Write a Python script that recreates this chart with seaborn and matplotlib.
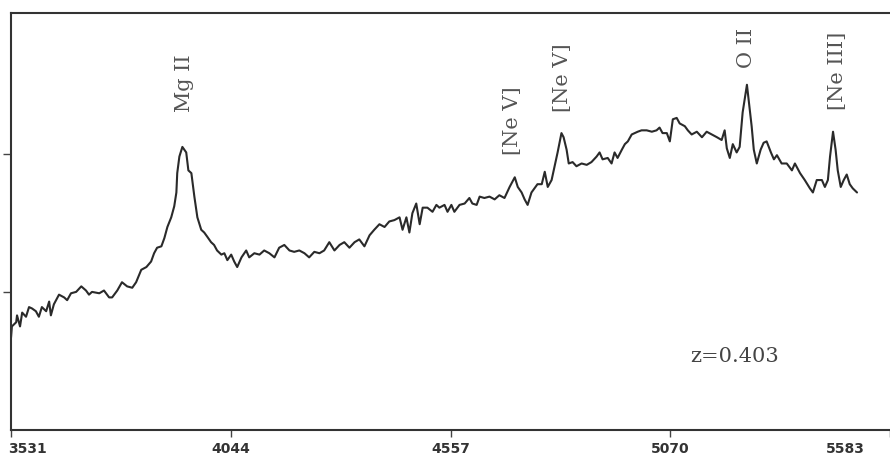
import seaborn as sns
import numpy as np
import matplotlib.pyplot as plt
import matplotlib.transforms as mtransforms
import pandas as pd

wavelength = [3531, 3533, 3543, 3545, 3552, 3557, 3566, 3573, 3580, 3589, 3596, 3603, 3613, 3620,
              3624, 3631, 3643, 3655, 3662, 3671, 3683, 3695, 3706, 3713, 3720, 3737, 3748, 3760,
              3767, 3779, 3790, 3802, 3814, 3823, 3835, 3847, 3858, 3865, 3872, 3882, 3889, 3896,
              3905, 3912, 3917, 3919, 3924, 3931, 3940, 3945, 3952, 3959, 3966, 3975, 3982, 3989,
              3998, 4005, 4012, 4022, 4029, 4036, 4045, 4052, 4059, 4069, 4080, 4087, 4099, 4111,
              4122, 4134, 4146, 4157, 4169, 4181, 4192, 4204, 4216, 4227, 4239, 4251, 4262, 4274,
              4286, 4298, 4309, 4321, 4333, 4344, 4356, 4368, 4379, 4391, 4403, 4414, 4426, 4438,
              4445, 4454, 4461, 4468, 4477, 4485, 4492, 4503, 4515, 4524, 4531, 4543, 4550, 4559,
              4566, 4578, 4590, 4601, 4608, 4618, 4625, 4636, 4648, 4660, 4671, 4683, 4695, 4707,
              4714, 4723, 4730, 4737, 4746, 4753, 4760, 4770, 4777, 4784, 4793, 4800, 4807, 4816,
              4821, 4828, 4833, 4842, 4851, 4863, 4875, 4886, 4898, 4905, 4912, 4924, 4933, 4940,
              4947, 4957, 4964, 4971, 4980, 4987, 4994, 5003, 5015, 5027, 5038, 5045, 5052, 5062,
              5069, 5076, 5085, 5092, 5104, 5111, 5120, 5132, 5144, 5155, 5167, 5179, 5190, 5197,
              5202, 5209, 5216, 5225, 5232, 5239, 5249, 5253, 5260, 5265, 5272, 5281, 5288, 5295,
              5305, 5312, 5319, 5330, 5342, 5354, 5361, 5373, 5384, 5396, 5403, 5412, 5424, 5431,
              5438, 5443, 5450, 5456, 5461, 5468, 5475, 5482, 5489, 5496, 5506]
flux = [0.67, 0.75, 0.78, 0.83, 0.75, 0.85, 0.82, 0.89, 0.88, 0.86, 0.82, 0.89, 0.86, 0.93,
        0.83, 0.91, 0.98, 0.96, 0.94, 0.99, 1.00, 1.04, 1.01, 0.98, 1.00, 0.99, 1.01, 0.96,
        0.96, 1.01, 1.07, 1.04, 1.03, 1.07, 1.16, 1.18, 1.22, 1.28, 1.32, 1.33, 1.39, 1.47,
        1.54, 1.62, 1.72, 1.86, 1.98, 2.05, 2.01, 1.88, 1.86, 1.69, 1.54, 1.45, 1.43, 1.40,
        1.36, 1.34, 1.30, 1.27, 1.28, 1.23, 1.27, 1.22, 1.18, 1.25, 1.30, 1.25, 1.28, 1.27,
        1.30, 1.28, 1.25, 1.32, 1.34, 1.30, 1.29, 1.30, 1.28, 1.25, 1.29, 1.28, 1.30, 1.36,
        1.30, 1.34, 1.36, 1.32, 1.36, 1.38, 1.33, 1.41, 1.45, 1.49, 1.47, 1.51, 1.52, 1.54,
        1.45, 1.54, 1.43, 1.57, 1.64, 1.49, 1.61, 1.61, 1.58, 1.63, 1.61, 1.63, 1.58, 1.63,
        1.58, 1.63, 1.64, 1.68, 1.64, 1.63, 1.69, 1.68, 1.69, 1.67, 1.70, 1.68, 1.76, 1.83,
        1.76, 1.72, 1.67, 1.63, 1.72, 1.75, 1.78, 1.78, 1.87, 1.76, 1.81, 1.91, 2.01, 2.15,
        2.12, 2.03, 1.93, 1.94, 1.91, 1.93, 1.92, 1.94, 1.98, 2.01, 1.96, 1.97, 1.93, 2.01,
        1.97, 2.03, 2.07, 2.09, 2.14, 2.15, 2.16, 2.17, 2.17, 2.16, 2.17, 2.19, 2.15, 2.15,
        2.09, 2.25, 2.26, 2.22, 2.20, 2.17, 2.14, 2.16, 2.12, 2.16, 2.14, 2.12, 2.10, 2.17,
        2.04, 1.97, 2.07, 2.01, 2.05, 2.30, 2.50, 2.39, 2.20, 2.03, 1.93, 2.03, 2.08, 2.09,
        2.01, 1.96, 1.99, 1.93, 1.93, 1.88, 1.93, 1.86, 1.81, 1.75, 1.72, 1.81, 1.81, 1.76,
        1.81, 1.98, 2.16, 2.03, 1.88, 1.76, 1.81, 1.85, 1.78, 1.75, 1.72]

# emission line labels: name, wavelength, flux of label base
line_names = ["Mg II", "[Ne V]", "[Ne V]", "O II", "[Ne III]"]
line_wl = [3935, 4702, 4819, 5249, 5461]
line_base = [2.30, 1.99, 2.30, 2.62, 2.32]

xtick_vals = [3531, 4044, 4557, 5070, 5583]
xtick_labels = ["3531", "4044", "4557", "5070", "5583"]
ytick_vals = [1.0, 2.0]

df = pd.DataFrame({"wavelength": wavelength, "flux": flux})

sns.set_style("ticks")
fig = plt.figure(figsize=(8.9, 4.55), dpi=100)
ax = fig.add_axes([0.0124, 0.055, 0.9876, 0.9165])

sns.lineplot(data=df, x="wavelength", y="flux", ax=ax, color="#2a2a2a",
             linewidth=1.5, errorbar=None)

ax.set_xlim(3531, 5583)
ax.set_ylim(0, 3.02)
ax.set_xlabel("")
ax.set_ylabel("")

for side in ["left", "top", "bottom"]:
    ax.spines[side].set_color("#333333")
    ax.spines[side].set_linewidth(1.5)
ax.spines["right"].set_visible(False)

ax.set_yticks(ytick_vals)
ax.set_yticklabels([])
ax.tick_params(axis="y", length=6, width=1.0, color="#444444")

ax.set_xticks(xtick_vals)
ax.set_xticklabels(xtick_labels, fontsize=10, fontweight="bold", color="#333333")
ax.tick_params(axis="x", length=5, width=1.0, color="#444444", pad=4)
labels = ax.get_xticklabels()
labels[0].set_ha("left")
labels[0].set_transform(labels[0].get_transform() +
                        mtransforms.ScaledTranslation(-0.03, 0, fig.dpi_scale_trans))
labels[-1].set_transform(labels[-1].get_transform() +
                         mtransforms.ScaledTranslation(-0.45, 0, fig.dpi_scale_trans))

for name, wl, base in zip(line_names, line_wl, line_base):
    ax.text(wl, base, name, rotation=90, ha="center", va="bottom",
            family="DejaVu Serif", fontsize=15, color="#555555")

ax.text(5221, 0.53, "z=0.403", ha="center", va="center",
        family="DejaVu Serif", fontsize=15, color="#444444")

fig.savefig("out.png", dpi=100)
